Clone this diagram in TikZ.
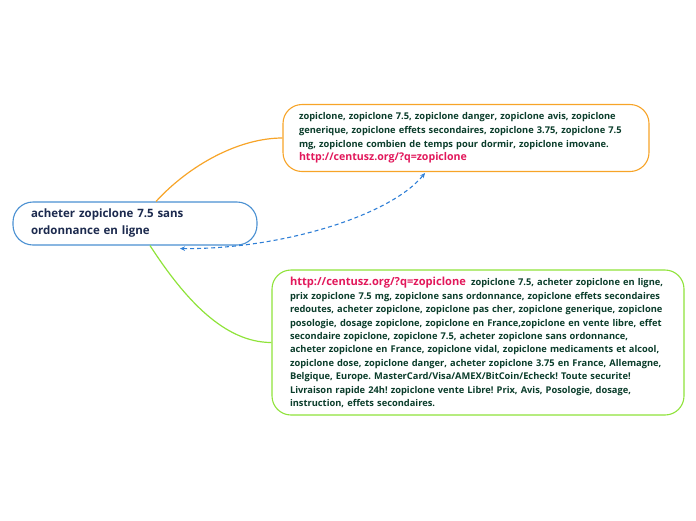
\documentclass[tikz,border=0pt]{standalone}
\usepackage{fontspec}
\setmainfont{Open Sans}
\usetikzlibrary{arrows.meta}
\definecolor{cblue}{HTML}{4A90D2}
\definecolor{dblue}{HTML}{2F7FD6}
\definecolor{corange}{HTML}{F7A428}
\definecolor{cgreen}{HTML}{8FE33A}
\definecolor{tgreen}{HTML}{0B3D2B}
\definecolor{tnavy}{HTML}{1C2A4E}
\definecolor{tlink}{HTML}{E2185B}
\tikzset{
  topic/.style={draw=cblue, line width=1.1pt, rounded corners=20pt, fill=white,
    minimum width=244pt, minimum height=43pt, text width=208pt, inner xsep=18pt,
    align=left, text=tnavy, font=\bfseries\fontsize{11.5}{17}\selectfont},
  leaf/.style={line width=1.1pt, rounded corners=19pt, fill=white,
    align=left, text=tgreen, font=\bfseries\fontsize{9.3}{13.4}\selectfont},
  conn/.style={line width=1.2pt},
  rel/.style={draw=dblue, line width=1.1pt, dash pattern=on 4pt off 3pt,
    {Stealth[length=5pt,width=4.5pt]}-{Stealth[length=5pt,width=4.5pt]}}
}
\newcommand{\lk}[2]{{\color{tlink}\fontsize{#1}{13.4}\selectfont #2}}
\frenchspacing
\begin{document}
\begin{tikzpicture}[x=1pt,y=-1pt]
\useasboundingbox (0,0) rectangle (696,520);
\node[topic] (c) at (135,223.5) {acheter zopiclone 7.5 sans\\ordonnance en ligne};
\node[leaf, draw=corange, minimum width=366pt, minimum height=67pt,
      text width=334pt, inner xsep=16pt, font=\bfseries\fontsize{9.3}{13.8}\selectfont] (t) at (466,138)
  {zopiclone, zopiclone 7.5, zopiclone danger, zopiclone avis, zopiclone\\
   generique, zopiclone effets secondaires, zopiclone 3.75, zopiclone 7.5\\
   mg, zopiclone combien de temps pour dormir, zopiclone imovane.\\
   \lk{10.6}{http://centusz.org/?q=zopiclone}};
\node[leaf, draw=cgreen, minimum width=412pt, minimum height=145pt,
      text width=376pt, inner xsep=18pt] (g) at (478,342.5)
  {\lk{11.1}{http://centusz.org/?q=zopiclone}\hspace{2pt} zopiclone 7.5, acheter zopiclone en ligne,\\
   prix zopiclone 7.5 mg, zopiclone sans ordonnance, zopiclone effets secondaires\\
   redoutes, acheter zopiclone, zopiclone pas cher, zopiclone generique, zopiclone\\
   posologie, dosage zopiclone, zopiclone en France,zopiclone en vente libre, effet\\
   secondaire zopiclone, zopiclone 7.5, acheter zopiclone sans ordonnance,\\
   acheter zopiclone en France, zopiclone vidal, zopiclone medicaments et alcool,\\
   zopiclone dose, zopiclone danger, acheter zopiclone 3.75 en France, Allemagne,\\
   Belgique, Europe. MasterCard/Visa/AMEX/BitCoin/Echeck! Toute securite!\\
   Livraison rapide 24h! zopiclone vente Libre! Prix, Avis, Posologie, dosage,\\
   instruction, effets secondaires.};
\draw[conn, draw=corange] ([xshift=21pt]c.north) .. controls +(34,-37) and +(-43,0) .. (t.west);
\draw[conn, draw=cgreen] ([xshift=15pt]c.south) .. controls +(35,54) and +(-47,0) .. (g.west);
\draw[rel] ([xshift=45pt,yshift=-3pt]c.south) .. controls +(100,1) and +(-35,43) .. ([xshift=-41pt,yshift=-1pt]t.south);
\end{tikzpicture}
\end{document}
